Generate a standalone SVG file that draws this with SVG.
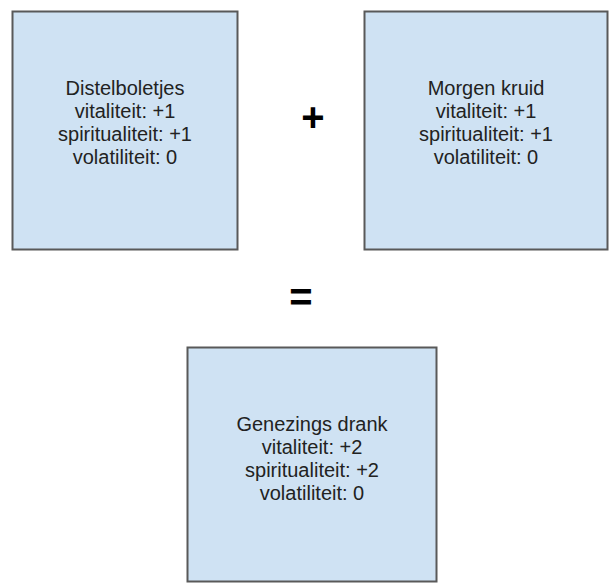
<svg xmlns="http://www.w3.org/2000/svg" width="610" height="583" viewBox="0 0 610 583">
<style>
.box{fill:#cfe2f3;stroke:#595959;stroke-width:2}
.t{font-family:"Liberation Sans",Arial,sans-serif;font-size:20px;fill:#222;text-anchor:middle}
.op{font-family:"Liberation Sans",Arial,sans-serif;font-size:40px;font-weight:bold;fill:#000;text-anchor:middle}
</style>
<rect width="610" height="583" fill="#fff"/>
<g id="distelboletjes">
<rect class="box" x="12.5" y="11.5" width="225" height="238"/>
<text class="t" x="125" y="95">Distelboletjes</text>
<text class="t" x="125" y="118">vitaliteit: +1</text>
<text class="t" x="125" y="141">spiritualiteit: +1</text>
<text class="t" x="125" y="164">volatiliteit: 0</text>
</g>
<g id="morgen-kruid">
<rect class="box" x="364.5" y="11.5" width="243" height="238"/>
<text class="t" x="486" y="95">Morgen kruid</text>
<text class="t" x="486" y="118">vitaliteit: +1</text>
<text class="t" x="486" y="141">spiritualiteit: +1</text>
<text class="t" x="486" y="164">volatiliteit: 0</text>
</g>
<g id="genezings-drank">
<rect class="box" x="187.5" y="347.5" width="249" height="234"/>
<text class="t" x="312" y="431">Genezings drank</text>
<text class="t" x="312" y="454">vitaliteit: +2</text>
<text class="t" x="312" y="477">spiritualiteit: +2</text>
<text class="t" x="312" y="500">volatiliteit: 0</text>
</g>
<g id="connectors">
<text class="op" x="313" y="131">+</text>
<text class="op" x="301" y="311">=</text>
</g>
</svg>
